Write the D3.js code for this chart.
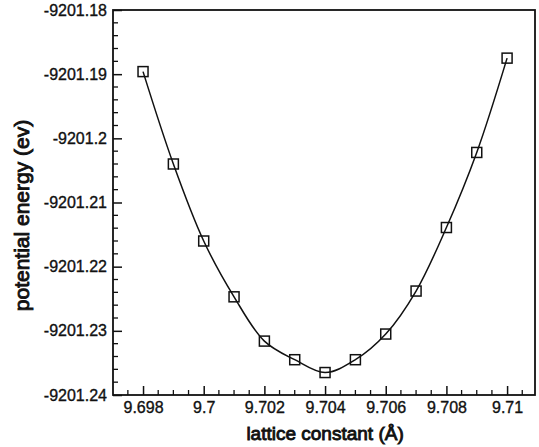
<!DOCTYPE html>
<html>
<head>
<meta charset="utf-8">
<script src="https://cdn.jsdelivr.net/npm/d3@7"></script>
<style>
  body { margin: 0; background: #fff; }
  text { font-family: "Liberation Sans", Arial, sans-serif; fill: #111; }
  .label { font-size: 19px; stroke: #111; stroke-width: 0.9px; }
</style>
</head>
<body>
<svg class="plot"></svg>
<script>
const latticeConstant = [9.698, 9.699, 9.700, 9.701, 9.702, 9.703, 9.704, 9.705, 9.706, 9.707, 9.708, 9.709, 9.710];
const potentialEnergy = [-9201.1896, -9201.2040, -9201.2160, -9201.2247, -9201.2316, -9201.2345, -9201.2365,
                         -9201.2345, -9201.2305, -9201.2238, -9201.2139, -9201.2022, -9201.1875];
const xTicks = [9.698, 9.700, 9.702, 9.704, 9.706, 9.708, 9.710];
const xTickLabels = ["9.698", "9.7", "9.702", "9.704", "9.706", "9.708", "9.71"];
const yTicks = [-9201.24, -9201.23, -9201.22, -9201.21, -9201.2, -9201.19, -9201.18];
const yTickLabels = ["-9201.24", "-9201.23", "-9201.22", "-9201.21", "-9201.2", "-9201.19", "-9201.18"];

const margin = {top: 10, right: 4, bottom: 52, left: 113},
      width = 535 - margin.left,
      height = 395 - margin.top;

const data = latticeConstant.map((d, i) => ({x: d, y: potentialEnergy[i]}));

let x = d3.scaleLinear()
          .domain([9.69701, 9.71092])
          .range([0, width]);

let y = d3.scaleLinear()
          .domain([-9201.24, -9201.18])
          .range([height, 0]);

let svg = d3.select(".plot")
            .attr("width", 539)
            .attr("height", 447);

let chart = svg.append("g")
               .attr("transform", "translate(" + margin.left + "," + margin.top + ")");

// minor ticks
let xMinor = d3.range(9.6975, 9.7109, 0.0005).filter(v => Math.abs(Math.round(v * 500) - v * 500) > 0.1);
let yMinor = d3.range(-9201.238, -9201.1805, 0.002).filter(v => Math.abs(Math.round(v * 100) - v * 100) > 0.05);

function styleTickText(sel) {
  sel.attr("fill", "#111")
     .style("font-size", "16px")
     .style("font-family", "'Liberation Sans', Arial, sans-serif")
     .style("stroke", "#111")
     .style("stroke-width", "0.35px");
}

// x-Axis (ticks inward)
let xAxis = d3.axisBottom(x)
              .tickValues(xTicks)
              .tickSize(-9)
              .tickFormat((d, i) => xTickLabels[i]);

let gx = chart.append("g")
              .attr("class", "x-axis axis")
              .attr("transform", "translate(0," + height + ")")
              .call(xAxis);

gx.select(".domain").remove();
gx.selectAll(".tick line").attr("stroke", "#111").attr("stroke-width", 1.5);
gx.selectAll(".tick text")
  .attr("y", 7)
  .attr("dy", "0.71em")
  .call(styleTickText);

chart.append("g")
     .selectAll("line")
     .data(xMinor)
     .enter().append("line")
     .attr("x1", d => x(d)).attr("x2", d => x(d))
     .attr("y1", height).attr("y2", height - 5)
     .attr("stroke", "#111")
     .attr("stroke-width", 1.3);

// y-Axis (ticks inward)
let yAxis = d3.axisLeft(y)
              .tickValues(yTicks)
              .tickSize(-9)
              .tickFormat((d, i) => yTickLabels[i]);

let gy = chart.append("g")
              .attr("class", "y-axis axis")
              .call(yAxis);

gy.select(".domain").remove();
gy.selectAll(".tick line").attr("stroke", "#111").attr("stroke-width", 1.5);
gy.selectAll(".tick text")
  .attr("x", -6)
  .call(styleTickText);

chart.append("g")
     .selectAll("line")
     .data(yMinor)
     .enter().append("line")
     .attr("x1", 0).attr("x2", 5)
     .attr("y1", d => y(d)).attr("y2", d => y(d))
     .attr("stroke", "#111")
     .attr("stroke-width", 1.3);

// Plot Border
chart.append("rect")
     .attr("class", "border")
     .attr("x", 0)
     .attr("y", 0)
     .attr("width", width)
     .attr("height", height)
     .style("stroke", "#111")
     .style("stroke-width", 1.8)
     .style("fill", "none");

// x-Axis Label
chart.append("text")
     .attr("class", "label")
     .attr("x", x(9.704))
     .attr("y", height + 45)
     .attr("text-anchor", "middle")
     .text("lattice constant (Å)");

// y-Axis Label
chart.append("text")
     .attr("class", "label")
     .attr("transform", "rotate(-90)")
     .attr("x", -(215.5 - margin.top))
     .attr("y", 28.5 - margin.left)
     .attr("text-anchor", "middle")
     .style("font-size", "21px")
     .text("potential energy (ev)");

// curve
let line = d3.line()
             .x(d => x(d.x))
             .y(d => y(d.y))
             .curve(d3.curveCatmullRom);

chart.append("path")
     .datum(data)
     .attr("d", line)
     .attr("fill", "none")
     .attr("stroke", "#111")
     .attr("stroke-width", 1.5);

// markers
chart.selectAll(".marker")
     .data(data)
     .enter().append("rect")
     .attr("class", "marker")
     .attr("x", d => x(d.x) - 5)
     .attr("y", d => y(d.y) - 5)
     .attr("width", 10)
     .attr("height", 10)
     .attr("fill", "none")
     .attr("stroke", "#111")
     .attr("stroke-width", 1.5);
</script>
</body>
</html>
